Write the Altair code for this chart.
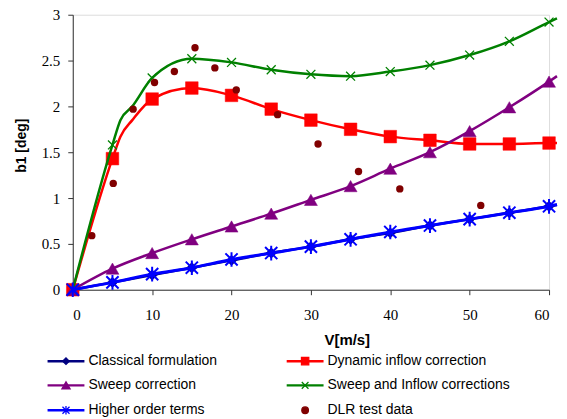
import altair as alt
import pandas as pd

# ---------------- data ----------------
V = [0, 5, 10, 15, 20, 25, 30, 35, 40, 45, 50, 55, 60]
classical = [0, 0.08, 0.16, 0.24, 0.32, 0.40, 0.47, 0.55, 0.62, 0.70, 0.77, 0.84, 0.91]
dynamic = [0, 1.43, 2.08, 2.20, 2.12, 1.97, 1.85, 1.75, 1.67, 1.63, 1.59, 1.59, 1.60]
sweep = [0, 0.23, 0.40, 0.55, 0.69, 0.83, 0.98, 1.13, 1.32, 1.50, 1.73, 1.99, 2.27]
sweep_inflow = [0, 1.58, 2.31, 2.52, 2.48, 2.40, 2.35, 2.33, 2.38, 2.45, 2.56, 2.71, 2.92]
higher = [0, 0.08, 0.17, 0.24, 0.33, 0.40, 0.47, 0.55, 0.63, 0.70, 0.77, 0.84, 0.91]

# extra points the smoothed curves pass through (no marker drawn there)
classical_extra_V, classical_extra_b = [61], [0.925]
dynamic_extra_V, dynamic_extra_b = [6, 7.5, 61], [1.67, 1.85, 1.60]
sweep_extra_V, sweep_extra_b = [61], [2.33]
sweep_inflow_extra_V, sweep_inflow_extra_b = [6, 7.5, 61], [1.85, 2.00, 2.96]
higher_extra_V, higher_extra_b = [61], [0.93]

dlr_V = [2.4, 5.1, 7.6, 10.3, 12.8, 15.4, 17.9, 20.6, 25.8, 30.9, 36.0, 41.2, 51.4]
dlr_b = [0.59, 1.16, 1.97, 2.26, 2.38, 2.64, 2.42, 2.18, 1.91, 1.59, 1.29, 1.10, 0.92]

labels = ["Classical formulation", "Dynamic inflow correction", "Sweep correction",
          "Sweep and Inflow corrections", "Higher order terms", "DLR test data"]
x_ticks = [0, 10, 20, 30, 40, 50, 60]
y_ticks = [0, 0.5, 1, 1.5, 2, 2.5, 3]

# ---------------- styling ----------------
W, H = 478, 276
SERIF = "Liberation Serif"
SANS = "Liberation Sans"
colors = ["#000080", "#FF0000", "#800080", "#008000", "#0000FF", "#800000"]
X_PATH = "M-1,-1L1,1M-1,1L1,-1"
STAR_PATH = "M-1,-1L1,1M-1,1L1,-1M0,-1.2L0,1.2"
shapes = ["diamond", "square", "triangle-up", X_PATH, STAR_PATH, "circle"]
filled = [True, True, True, False, False, True]
msize = [110, 160, 170, 80, 150, 55]
lwidth = [2.5, 2.5, 2.5, 2.5, 3.0, 0]

xaxis = alt.Axis(values=x_ticks, title="V[m/s]", grid=False, tickSize=5,
                 labelPadding=13, labelFont=SERIF, labelFontSize=15,
                 labelColor="black", domainColor="#333", tickColor="#333",
                 titleFont=SANS, titleFontSize=15, titleFontWeight="bold",
                 titleColor="black", titleX=275, titleY=50, titleAlign="center",
                 titleBaseline="middle", titleAnchor="start")
yaxis = alt.Axis(values=y_ticks, format=".1~f", title="b1 [deg]", grid=False, tickSize=5,
                 labelPadding=8, labelFont=SERIF, labelFontSize=15,
                 labelColor="black", domainColor="#333", tickColor="#333",
                 titleFont=SANS, titleFontSize=14, titleFontWeight="bold",
                 titleColor="black", titleX=-51, titleY=131, titleAngle=270,
                 titleAlign="center", titleBaseline="middle", titleAnchor="start")

xs = alt.Scale(domain=[0, 60], nice=False, zero=False)
ys = alt.Scale(domain=[0, 3], nice=False, zero=False)


def enc_x():
    return alt.X("V:Q", scale=xs, axis=xaxis)


def enc_y():
    return alt.Y("b1:Q", scale=ys, axis=yaxis)


series = [
    (classical, classical_extra_V, classical_extra_b),
    (dynamic, dynamic_extra_V, dynamic_extra_b),
    (sweep, sweep_extra_V, sweep_extra_b),
    (sweep_inflow, sweep_inflow_extra_V, sweep_inflow_extra_b),
    (higher, higher_extra_V, higher_extra_b),
]

layers = []
for i, (vals, ev, eb) in enumerate(series):
    line_df = pd.DataFrame({"V": V + ev, "b1": vals + eb}).sort_values("V")
    mark_df = pd.DataFrame({"V": V, "b1": vals})
    layers.append(
        alt.Chart(line_df).mark_line(color=colors[i], strokeWidth=lwidth[i],
                                     interpolate="monotone")
        .encode(x=enc_x(), y=enc_y())
    )
    if filled[i]:
        pt = alt.Chart(mark_df).mark_point(shape=shapes[i], filled=True, fill=colors[i],
                                           stroke=colors[i], strokeWidth=0.5,
                                           size=msize[i], opacity=1)
    else:
        pt = alt.Chart(mark_df).mark_point(shape=shapes[i], filled=False, stroke=colors[i],
                                           strokeWidth=2 if i == 4 else 1.3,
                                           size=msize[i], opacity=1)
    layers.append(pt.encode(x=enc_x(), y=enc_y()))

dlr_df = pd.DataFrame({"V": dlr_V, "b1": dlr_b})
layers.append(
    alt.Chart(dlr_df).mark_point(shape="circle", filled=True, fill=colors[5],
                                 size=msize[5], opacity=1)
    .encode(x=enc_x(), y=enc_y())
)

main = alt.layer(*layers)

# ---------------- legend (pixel positions relative to plot origin) ----------------
col_x0 = [-25.3, 214.7]          # start of legend line for each column
row_y = [347.7, 372.0, 397.0]
leg_rows = []
for i, lab in enumerate(labels):
    c, r = i % 2, i // 2
    x0 = col_x0[c]
    leg_rows.append({
        "label": lab, "x1": x0, "x2": x0 + 37, "xm": x0 + 18.5, "tx": x0 + 41,
        "y": row_y[r], "stroke": colors[i],
        "fill": colors[i] if filled[i] else "transparent",
        "shape": shapes[i], "size": [45, 55, 70, 45, 50, 45][i],
        "sw": 1.2 if filled[i] else 1.3, "has_line": lwidth[i] > 0,
    })
leg_df = pd.DataFrame(leg_rows)

lx = lambda f: alt.X(f"{f}:Q", scale=None, axis=None)
ly = alt.Y("y:Q", scale=None, axis=None)

leg_lines = alt.Chart(leg_df).transform_filter("datum.has_line").mark_rule(strokeWidth=2.5).encode(
    x=lx("x1"), x2="x2:Q", y=ly, color=alt.Color("stroke:N", scale=None, legend=None))
leg_pts = alt.Chart(leg_df).mark_point(opacity=1).encode(
    x=lx("xm"), y=ly,
    shape=alt.Shape("shape:N", scale=None, legend=None),
    fill=alt.Fill("fill:N", scale=None, legend=None),
    stroke=alt.Stroke("stroke:N", scale=None, legend=None),
    size=alt.Size("size:Q", scale=None, legend=None),
    strokeWidth=alt.StrokeWidth("sw:Q", scale=None, legend=None))
leg_text = alt.Chart(leg_df).mark_text(align="left", baseline="middle", font=SANS,
                                       fontSize=14, color="black").encode(
    x=lx("tx"), y=ly, text="label:N")

legend = alt.layer(leg_lines, leg_pts, leg_text)

chart = (
    alt.layer(main, legend)
    .resolve_scale(x="independent", y="independent")
    .properties(width=W, height=H,
                autosize=alt.AutoSizeParams(type="none"),
                padding={"left": 65, "top": 6, "right": 10, "bottom": 129})
    .configure_view(stroke=None)
    .configure_axis(labelFont=SERIF, labelFontSize=15, titleFont=SANS)
    .configure(background="white")
)

chart.save("out.html", embed_options={"renderer": "svg", "actions": False})
